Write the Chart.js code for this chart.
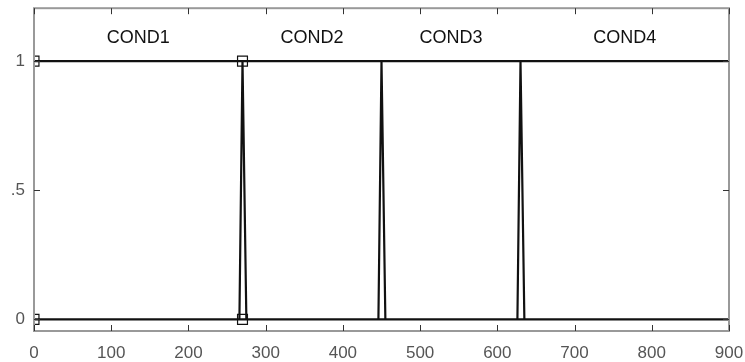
<!DOCTYPE html>
<html>
<head>
<meta charset="utf-8">
<script src="https://cdn.jsdelivr.net/npm/chart.js@4/dist/chart.umd.min.js"></script>
<style>
  html, body { margin: 0; padding: 0; background: #fff; }
  canvas { display: block; }
</style>
</head>
<body>
<canvas id="chart" width="745" height="362"></canvas>
<script>
// values
const xTicks = [0, 100, 200, 300, 400, 500, 600, 700, 800, 900];
const yTicks = [0, 0.5, 1];
const yTickLabels = ["0", ".5", "1"];

const topLineX = [0, 900];
const topLineY = [1, 1];
const bottomLineX = [0, 900];
const bottomLineY = [0, 0];

const spike1X = [266, 270, 275];
const spike2X = [446, 450, 455];
const spike3X = [626, 630, 635];
const spikeY = [0, 1, 0];

const markerX = [0, 0, 270, 270];
const markerY = [1, 0, 1, 0];

const condLabels = ["COND1", "COND2", "COND3", "COND4"];
const condX = [135, 360, 540, 765];
const condY = 1.09;

const FONT = "'Liberation Sans', Arial, sans-serif";

function pts(xs, ys) {
  return xs.map((x, i) => ({ x: x, y: ys[i] }));
}

function lineSet(xs, ys) {
  return {
    data: pts(xs, ys),
    borderColor: "#111",
    borderWidth: 2.2,
    pointRadius: 0,
    showLine: true,
    tension: 0,
  };
}

// box, inward ticks and the condition labels
const boxPlugin = {
  id: "box",
  afterDatasetsDraw(chart) {
    const ctx = chart.ctx;
    const a = chart.chartArea;
    const xs = chart.scales.x;
    const ys = chart.scales.y;
    ctx.save();
    ctx.strokeStyle = "#999";
    ctx.lineWidth = 2;
    ctx.strokeRect(a.left, a.top, a.right - a.left, a.bottom - a.top);
    ctx.strokeStyle = "#333";
    ctx.lineWidth = 1;
    ctx.beginPath();
    xTicks.forEach((t) => {
      const px = Math.round(xs.getPixelForValue(t)) + 0.5;
      ctx.moveTo(px, a.bottom);
      ctx.lineTo(px, a.bottom - 6);
      ctx.moveTo(px, a.top);
      ctx.lineTo(px, a.top + 6);
    });
    yTicks.forEach((t) => {
      const py = Math.round(ys.getPixelForValue(t)) + 0.5;
      ctx.moveTo(a.left, py);
      ctx.lineTo(a.left + 6, py);
      ctx.moveTo(a.right, py);
      ctx.lineTo(a.right - 6, py);
    });
    ctx.stroke();

    ctx.fillStyle = "#111";
    ctx.font = "18px " + FONT;
    ctx.textAlign = "center";
    ctx.textBaseline = "middle";
    condLabels.forEach((lab, i) => {
      ctx.fillText(lab, xs.getPixelForValue(condX[i]), ys.getPixelForValue(condY));
    });
    ctx.restore();
  },
};

new Chart(document.getElementById("chart"), {
  type: "scatter",
  data: {
    datasets: [
      lineSet(topLineX, topLineY),
      lineSet(bottomLineX, bottomLineY),
      lineSet(spike1X, spikeY),
      lineSet(spike2X, spikeY),
      lineSet(spike3X, spikeY),
      {
        data: pts(markerX, markerY),
        showLine: false,
        pointStyle: "rect",
        pointRadius: 7,
        pointBorderColor: "#111",
        pointBorderWidth: 1.2,
        pointBackgroundColor: "rgba(0,0,0,0)",
      },
    ],
  },
  options: {
    responsive: false,
    devicePixelRatio: 1,
    animation: false,
    layout: { padding: { top: 7, right: 16, left: 0, bottom: 0 } },
    plugins: { legend: { display: false }, tooltip: { enabled: false } },
    scales: {
      x: {
        type: "linear",
        min: 0,
        max: 900,
        afterBuildTicks: (s) => { s.ticks = xTicks.map((v) => ({ value: v })); },
        afterFit: (s) => { s.height = 31; s.paddingLeft = 0; s.paddingRight = 0; },
        grid: { display: false },
        border: { display: false },
        ticks: {
          padding: 4,
          color: "#555",
          maxRotation: 0,
          font: { size: 17, family: FONT },
        },
      },
      y: {
        type: "linear",
        min: -0.045,
        max: 1.205,
        afterBuildTicks: (s) => { s.ticks = yTicks.map((v) => ({ value: v })); },
        afterFit: (s) => { s.width = 34; s.paddingTop = 0; s.paddingBottom = 0; },
        grid: { display: false },
        border: { display: false },
        ticks: {
          padding: 1,
          color: "#555",
          font: { size: 17, family: FONT },
          callback: (v) => yTickLabels[yTicks.indexOf(v)],
        },
      },
    },
  },
  plugins: [boxPlugin],
});
</script>
</body>
</html>
